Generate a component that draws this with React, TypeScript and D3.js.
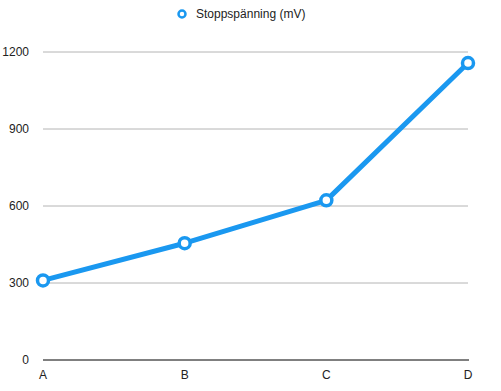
import React, { useEffect, useRef } from 'react';
import * as d3 from 'd3';

const categories = ['A', 'B', 'C', 'D'];
const values = [310, 455, 622, 1157];
const yTicks = [0, 300, 600, 900, 1200];
const seriesName = 'Stoppspänning (mV)';

const W = 501;
const H = 391;
const color = '#1a98f0';

export default function App() {
  const ref = useRef<SVGSVGElement>(null);

  useEffect(() => {
    const svg = d3.select(ref.current);
    svg.selectAll('*').remove();

    const x = d3.scalePoint<string>().domain(categories).range([43, 468]);
    const y = d3.scaleLinear().domain([0, 1200]).range([360, 52]);
    const font = 'Helvetica, "Liberation Sans", Arial, sans-serif';

    // gridlines
    svg.append('g')
      .selectAll('line')
      .data(yTicks.filter(t => t > 0))
      .enter().append('line')
      .attr('x1', 43).attr('x2', 468)
      .attr('y1', d => y(d)).attr('y2', d => y(d))
      .attr('stroke', '#b4b4b4').attr('stroke-width', 1);

    // baseline
    svg.append('line')
      .attr('x1', 43).attr('x2', 469)
      .attr('y1', y(0)).attr('y2', y(0))
      .attr('stroke', '#000').attr('stroke-width', 1);

    // y labels
    svg.append('g')
      .selectAll('text')
      .data(yTicks)
      .enter().append('text')
      .attr('x', 29)
      .attr('y', d => y(d) + 4)
      .attr('text-anchor', 'end')
      .style('font-family', font).style('font-size', '12px')
      .attr('fill', '#222')
      .text(d => String(d));

    // x labels
    svg.append('g')
      .selectAll('text')
      .data(categories)
      .enter().append('text')
      .attr('x', d => x(d)!)
      .attr('y', 379)
      .attr('text-anchor', 'middle')
      .style('font-family', font).style('font-size', '12px')
      .attr('fill', '#222')
      .text(d => d);

    const line = d3.line<number>()
      .x((d, i) => x(categories[i])!)
      .y(d => y(d));

    svg.append('path')
      .datum(values)
      .attr('d', line)
      .attr('fill', 'none')
      .attr('stroke', color)
      .attr('stroke-width', 5)
      .attr('stroke-linejoin', 'round');

    svg.append('g')
      .selectAll('circle')
      .data(values)
      .enter().append('circle')
      .attr('cx', (d, i) => x(categories[i])!)
      .attr('cy', d => y(d))
      .attr('r', 5.5)
      .attr('fill', '#fff')
      .attr('stroke', color)
      .attr('stroke-width', 3.5);

    // legend
    const lg = svg.append('g');
    lg.append('circle')
      .attr('cx', 182).attr('cy', 14).attr('r', 3.5)
      .attr('fill', '#fff').attr('stroke', color).attr('stroke-width', 2.5);
    lg.append('text')
      .attr('x', 196).attr('y', 18)
      .style('font-family', font).style('font-size', '12px')
      .attr('fill', '#222')
      .text(seriesName);
  }, []);

  return (
    <svg ref={ref} width={W} height={H}
      style={{ position: 'absolute', left: 0, top: 0, background: '#fff' }} />
  );
}
